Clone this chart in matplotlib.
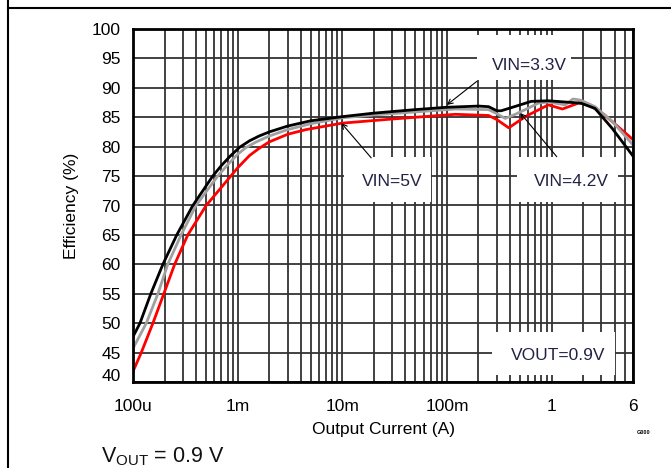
import matplotlib
matplotlib.use("Agg")
import matplotlib.pyplot as plt
from matplotlib.lines import Line2D
from matplotlib.patches import Rectangle
from matplotlib.ticker import FixedLocator, LogLocator, NullFormatter, FixedFormatter
from matplotlib.transforms import ScaledTranslation

plt.rcParams['font.family'] = ['Liberation Sans', 'DejaVu Sans']
plt.rcParams['mathtext.fontset'] = 'custom'
plt.rcParams['mathtext.rm'] = 'Liberation Sans'

# ---- data ----
i_33 = [1e-4, 1.166e-4, 1.48e-4, 1.93e-4, 2.62e-4, 3.73e-4, 5.78e-4, 7e-4, 8.5e-4,
        1.045e-3, 1.3e-3, 1.6e-3, 2e-3, 3e-3, 5e-3, 1e-2, 2e-2, 5e-2, 0.1, 0.2, 0.25,
        0.3, 0.33, 0.48, 0.64, 0.93, 1.9, 2.6, 3.8, 6]
e_33 = [47.7, 50.0, 55.0, 60.0, 65.0, 70.0, 75.0, 76.8, 78.4,
        79.9, 81.0, 81.8, 82.5, 83.5, 84.4, 85.1, 85.7, 86.3, 86.7, 86.9, 86.8,
        86.1, 86.1, 87.0, 87.7, 87.8, 87.4, 86.5, 83.1, 78.4]

i_42 = [1e-4, 1.34e-4, 1.73e-4, 2.15e-4, 2.88e-4, 4.0e-4, 6.45e-4, 8e-4, 1e-3,
        1.19e-3, 1.5e-3, 2e-3, 3e-3, 5e-3, 1e-2, 2e-2, 5e-2, 0.12, 0.25, 0.3, 0.36,
        0.45, 0.56, 0.75, 0.93, 1.35, 1.6, 1.9, 2.6, 3.8, 6]
e_42 = [45.7, 50.0, 55.0, 60.0, 65.0, 70.0, 75.0, 76.9, 78.7,
        79.8, 80.8, 81.8, 82.9, 83.9, 84.9, 85.4, 85.9, 86.4, 86.3, 85.6, 84.8,
        85.5, 86.3, 87.4, 87.6, 87.1, 88.1, 87.9, 86.8, 84.3, 80.3]

i_5 = [1e-4, 1.2e-4, 1.55e-4, 1.97e-4, 2.5e-4, 3.34e-4, 5.0e-4, 8.6e-4, 1e-3,
       1.3e-3, 1.6e-3, 2e-3, 3e-3, 4.5e-3, 1e-2, 3e-2, 0.12, 0.25, 0.3, 0.39, 0.56,
       0.93, 1.27, 1.8, 2.2, 3.2, 6]
e_5 = [41.8, 45.0, 50.0, 55.0, 60.0, 65.0, 70.0, 75.0, 76.4,
       78.5, 79.7, 80.8, 82.1, 82.9, 84.0, 84.7, 85.5, 85.3, 84.6, 83.2, 85.1,
       87.1, 86.4, 87.4, 87.3, 85.4, 81.2]

x_ticks = [1e-4, 1e-3, 1e-2, 1e-1, 1, 6]
x_ticklabels = ['100u', '1m', '10m', '100m', '1', '6']
y_ticks = list(range(40, 101, 5))

# ---- figure ----
fig = plt.figure(figsize=(6.71, 4.68), dpi=100)
ax = fig.add_axes([133/671, 1-382/468, 500/671, 353/468])

grid_c = '#333333'
ax.set_xscale('log')
ax.set_xlim(1e-4, 6)
ax.set_ylim(40, 100)
ax.xaxis.set_major_locator(FixedLocator(x_ticks))
ax.xaxis.set_major_formatter(FixedFormatter(x_ticklabels))
ax.xaxis.set_minor_locator(LogLocator(base=10, subs=range(2, 10)))
ax.xaxis.set_minor_formatter(NullFormatter())
ax.yaxis.set_major_locator(FixedLocator(y_ticks))
ax.set_axisbelow(True)
ax.grid(True, which='major', axis='both', color=grid_c, lw=1.3)
ax.grid(True, which='minor', axis='x', color=grid_c, lw=1.3)
ax.tick_params(which='both', length=0, labelsize=12.5, colors='black')
ax.tick_params(axis='y', pad=9)
ax.tick_params(axis='x', pad=12)
for s in ax.spines.values():
    s.set_linewidth(2)
    s.set_color('black')
    s.set_zorder(5)

# shift the "40" label upward like the reference
lab = ax.get_yticklabels()[0]
lab.set_transform(lab.get_transform() + ScaledTranslation(0, 7/100, fig.dpi_scale_trans))

ax.set_xlabel('Output Current (A)', fontsize=12.5, labelpad=6)
ax.set_ylabel('Efficiency (%)', fontsize=12.5, labelpad=9)

# white label boxes (cover the grid)
boxes = [((0.193, 91.4), (1.55, 99.0)),
         ((0.01045, 70.6), (0.0704, 78.3)),
         ((0.464, 70.6), (4.35, 78.3)),
         ((0.268, 41.2), (4.07, 48.5))]
for (x0, y0), (x1, y1) in boxes:
    ax.add_patch(Rectangle((x0, y0), x1 - x0, y1 - y0, facecolor='white',
                           edgecolor='none', zorder=1))

ax.plot(i_5, e_5, color='#ff0000', lw=2.0, zorder=3)
ax.plot(i_42, e_42, color='#a0a0a0', lw=2.0, zorder=3.5)
ax.plot(i_33, e_33, color='black', lw=2.0, zorder=4)

tc = '#222244'
ax.text(0.609, 93.8, 'VIN=3.3V', ha='center', va='center', fontsize=12.5, color=tc, zorder=6)
ax.text(0.0302, 74.0, 'VIN=5V', ha='center', va='center', fontsize=12.5, color=tc, zorder=6)
ax.text(1.55, 74.0, 'VIN=4.2V', ha='center', va='center', fontsize=12.5, color=tc, zorder=6)
ax.text(1.15, 44.5, 'VOUT=0.9V', ha='center', va='center', fontsize=12.5, color=tc, zorder=6)

arrow = dict(arrowstyle='->,head_length=0.35,head_width=0.18', color='black', lw=0.8,
             shrinkA=0, shrinkB=0)
ax.annotate('', xy=(0.1, 87.1), xytext=(0.193, 91.1), arrowprops=arrow, zorder=6)
ax.annotate('', xy=(0.0098, 84.0), xytext=(0.0189, 78.1), arrowprops=arrow, zorder=6)
ax.annotate('', xy=(0.504, 85.7), xytext=(1.12, 78.3), arrowprops=arrow, zorder=6)

fig.text(637/671, 1-433/468, 'G000', fontsize=4, fontweight='bold', va='center', ha='left')
fig.text(101/671, 1-462/468, r'$\mathrm{V_{OUT}}$ = 0.9 V', fontsize=15.5, va='baseline',
         ha='left', color='#111111')

# outer frame lines
fig.add_artist(Line2D([8/671, 8/671], [0, 1], color='black', lw=1.5, transform=fig.transFigure))
fig.add_artist(Line2D([8/671, 1], [1-8/468, 1-8/468], color='black', lw=1.5, transform=fig.transFigure))

fig.savefig('out.png', dpi=100)
